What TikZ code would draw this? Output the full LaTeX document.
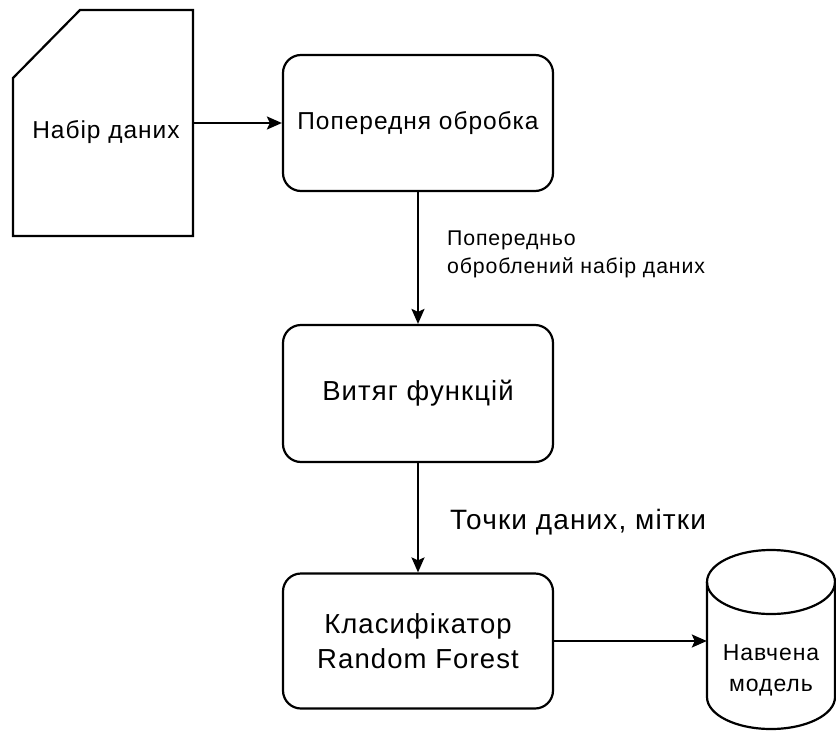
\documentclass[tikz,border=0pt]{standalone}
\usepackage{fontspec}
\setmainfont{Liberation Sans}[LetterSpace=4]
\usetikzlibrary{arrows.meta}
\tikzset{
  line/.style={line width=2.2pt, draw=black},
  arr/.style={line, -{Stealth[length=15pt,width=13pt,inset=3pt]}},
  procbox/.style={line, rounded corners=18pt, minimum width=270pt, minimum height=135pt, align=center, inner sep=0pt},
  boxtext/.style={font=\fontsize{24.5}{34}\selectfont},
  bigtext/.style={font=\fontsize{27.5}{35}\selectfont},
  lbl/.style={anchor=west, align=left, inner sep=0pt},
}
\begin{document}
\begin{tikzpicture}[x=1pt,y=-1pt]
\useasboundingbox (0,0) rectangle (836,731);
% data card
\draw[line, line join=miter] (13,78) -- (80,10) -- (193,10) -- (193,236) -- (13,236) -- cycle;
\node[minimum width=180pt, minimum height=226pt, inner sep=0pt] (data) at (103,123) {};
\node[boxtext, inner sep=0pt] (datatext) at (106,132) {Набір даних};
% boxes
\node[procbox, boxtext, minimum height=136pt] (pre) at (418,123) {Попередня обробка};
\node[procbox, bigtext, minimum height=137pt] (feat) at (418,393.5) {Витяг функцій};
\node[procbox, bigtext] (clf) at (418,641) {Класифікатор\\Random Forest};
% cylinder
\node[minimum width=128pt, minimum height=180pt, inner sep=0pt] (model) at (771,640) {};
\draw[line] (707,582) -- (707,697) arc[start angle=180, end angle=360, x radius=64pt, y radius=32pt] -- (835,582);
\draw[line] (771,582) ellipse[x radius=64pt, y radius=32pt];
\node[font=\fontsize{23}{31}\selectfont, align=center, inner sep=0pt] (modeltext) at (771,670) {Навчена\\модель};
% connectors
\draw[arr] (data.east |- pre.west) -- (pre.west);
\draw[arr] (pre.south) -- (feat.north);
\draw[arr] (feat.south) -- (clf.north);
\draw[arr] (clf.east) -- (model.west |- clf.east);
% labels
\node[lbl, font=\fontsize{21.3}{28}\selectfont] (lbl1) at (447,254) {Попередньо\\оброблений набір даних};
\node[lbl, font=\fontsize{28}{30}\selectfont] (lbl2) at (450,522) {Точки даних, мітки};
\end{tikzpicture}
\end{document}
